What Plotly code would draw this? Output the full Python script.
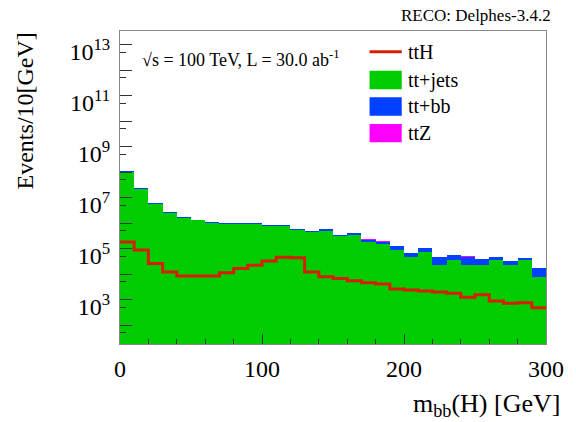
import plotly.graph_objects as go

# ---- data ----
bin_edges = [0, 10, 20, 30, 40, 50, 60, 70, 80, 90, 100, 110, 120, 130, 140, 150,
             160, 170, 180, 190, 200, 210, 220, 230, 240, 250, 260, 270, 280, 290, 300]

tt_jets = [1.02e8, 2.14e7, 5.6e6, 2.45e6, 1.62e6, 1.26e6, 1.02e6, 9.5e5, 9.1e5, 9.1e5,
           7.8e5, 7.8e5, 5.25e5, 4.4e5, 4.7e5, 3.0e5, 3.3e5, 1.86e5, 1.48e5, 8.7e4,
           4.5e4, 7.2e4, 2.24e4, 3.6e4, 2.2e4, 2.25e4, 3.6e4, 2.2e4, 3.55e4, 7.6e3]

tt_bb = [6.0e6, 1.4e6, 2.6e5, 1.7e5, 1.5e5, 1.1e5, 9.0e4, 6.0e4, 7.0e4, 7.0e4,
         9.0e4, 9.0e4, 7.3e4, 5.0e4, 9.0e4, 5.0e4, 7.0e4, 3.9e4, 4.0e4, 4.3e4,
         2.3e4, 3.2e4, 2.4e4, 2.05e4, 2.6e4, 1.6e4, 1.0e4, 1.1e4, 7.0e3, 9.6e3]

tt_z = [3.0e4, 8.0e3, 2.5e3, 1.5e3, 1.2e3, 1.0e3, 1.0e3, 1.0e3, 2.0e4, 2.0e4,
        1.2e3, 1.2e3, 1.0e3, 800, 800, 700, 700, 6.0e3, 700, 500,
        300, 4.0e3, 300, 300, 2.5e3, 200, 200, 150, 150, 100]

tt_h = [1.8e5, 8.7e4, 2.6e4, 1.2e4, 8.3e3, 8.3e3, 8.3e3, 1.12e4, 1.66e4, 2.2e4,
        3.2e4, 4.5e4, 4.3e4, 1.2e4, 7.8e3, 6.6e3, 5.5e3, 4.5e3, 4.1e3, 2.6e3,
        2.35e3, 2.15e3, 1.95e3, 1.75e3, 1.23e3, 1.55e3, 870, 710, 740, 480]

y_labeled_exponents = [3, 5, 7, 9, 11, 13]
y_unlabeled_exponents = [2, 4, 6, 8, 10, 12]
x_major_ticks = [0, 100, 200, 300]

# ---- styles ----
C_GREEN = "#00cc00"
C_BLUE = "#0040ff"
C_MAG = "#ff00ff"
C_RED = "#d81e00"
FONT = "Liberation Serif, Times New Roman, serif"
W, H = 576, 422
L, R, T, B = 120, 19, 31, 78
PW, PH = W - L - R, H - T - B
Y_RANGE = [1.255, 13.53]

centers = [(a + b) / 2 for a, b in zip(bin_edges[:-1], bin_edges[1:])]
widths = [b - a for a, b in zip(bin_edges[:-1], bin_edges[1:])]

# stacked totals (THStack style): each layer drawn from the axis to its cumulative height
cum_jets = list(tt_jets)
cum_bb = [a + b for a, b in zip(cum_jets, tt_bb)]
cum_z = [a + b for a, b in zip(cum_bb, tt_z)]

fig = go.Figure()
for name, vals, col in [("ttZ", cum_z, C_MAG), ("tt+bb", cum_bb, C_BLUE), ("tt+jets", cum_jets, C_GREEN)]:
    fig.add_trace(go.Bar(x=centers, y=vals, width=widths, name=name,
                         marker=dict(color=col, line=dict(width=0)),
                         showlegend=False))

fig.add_trace(go.Scatter(x=bin_edges, y=tt_h + [tt_h[-1]], mode="lines", name="ttH",
                         line=dict(color=C_RED, width=3, shape="hv"), showlegend=False))

# empty trace that only carries the secondary (tick-only) y axis
fig.add_trace(go.Scatter(x=[None], y=[None], yaxis="y2", mode="lines", showlegend=False,
                         hoverinfo="skip"))

all_exp = sorted(y_labeled_exponents + y_unlabeled_exponents)
yminor = [5 * 10 ** (e - 1) for e in all_exp]
xminor = [v for v in range(20, 300, 20) if v not in x_major_ticks]

fig.update_layout(
    width=W, height=H, margin=dict(l=L, r=R, t=T, b=B),
    paper_bgcolor="white", plot_bgcolor="white",
    barmode="overlay", bargap=0,
    font=dict(family=FONT, color="black"),
    xaxis=dict(range=[0, 300], tickmode="array", tickvals=x_major_ticks,
               ticks="inside", ticklen=10, tickcolor="#333", tickwidth=1,
               showline=True, linecolor="#888", linewidth=1, mirror=True,
               showgrid=False, zeroline=False, tickfont=dict(size=24, family=FONT),
               ticklabelstandoff=3,
               minor=dict(tickmode="array", tickvals=xminor, ticks="inside", ticklen=5,
                          tickcolor="#333", showgrid=False)),
    yaxis=dict(type="log", range=Y_RANGE, tickmode="array",
               tickvals=[10 ** e for e in y_labeled_exponents],
               ticktext=[f"10<sup>{e}</sup>" for e in y_labeled_exponents],
               ticks="inside", ticklen=12, tickcolor="#333", tickwidth=1,
               showline=True, linecolor="#888", linewidth=1, mirror=True,
               showgrid=False, zeroline=False, tickfont=dict(size=24, family=FONT),
               ticklabelstandoff=4, ticklabelshift=7,
               minor=dict(tickmode="array", tickvals=yminor, ticks="inside", ticklen=6,
                          tickcolor="#333", showgrid=False)),
    yaxis2=dict(type="log", range=Y_RANGE, overlaying="y", side="left",
                tickmode="array", tickvals=[10 ** e for e in y_unlabeled_exponents],
                showticklabels=False, ticks="inside", ticklen=12, tickcolor="#333",
                tickwidth=1, showline=False, showgrid=False, zeroline=False),
)

def px(xp):
    return (xp - L) / PW

def py(yp):
    return (H - B - yp) / PH

ann = []
ann.append(dict(text="RECO: Delphes-3.4.2", x=px(564), y=py(15), xref="paper", yref="paper",
                xanchor="right", yanchor="middle", showarrow=False, font=dict(size=17, family=FONT)))
ann.append(dict(text="√s = 100 TeV, L = 30.0 ab<sup>-1</sup>", x=px(141), y=py(58), xref="paper", yref="paper",
                xanchor="left", yanchor="middle", showarrow=False, font=dict(size=18, family=FONT)))
ann.append(dict(text="Events/10[GeV]", x=px(23), y=py(111), xref="paper", yref="paper",
                xanchor="center", yanchor="middle", textangle=-90, showarrow=False,
                font=dict(size=24, family=FONT)))
ann.append(dict(text="m<sub>bb</sub>(H) [GeV]", x=px(573), y=py(405), xref="paper", yref="paper",
                xanchor="right", yanchor="middle", showarrow=False, font=dict(size=26, family=FONT)))

# legend (drawn manually to match box-style entries)
shapes = []
shapes.append(dict(type="line", xref="paper", yref="paper", x0=px(376), x1=px(409),
                   y0=py(51.7), y1=py(51.7), line=dict(color=C_RED, width=3)))
leg_boxes = [(C_GREEN, 70.7, 89.3), (C_BLUE, 97.3, 115.7), (C_MAG, 124, 142.3)]
for col, y0, y1 in leg_boxes:
    shapes.append(dict(type="rect", xref="paper", yref="paper", x0=px(376), x1=px(409),
                       y0=py(y1), y1=py(y0), fillcolor=col, line=dict(width=0)))
leg_labels = [("ttH", 51.7), ("tt+jets", 80), ("tt+bb", 106.5), ("ttZ", 133.2)]
for txt, yc in leg_labels:
    ann.append(dict(text=txt, x=px(413), y=py(yc), xref="paper", yref="paper",
                    xanchor="left", yanchor="middle", showarrow=False, font=dict(size=20, family=FONT)))

fig.update_layout(annotations=ann, shapes=shapes)
fig.write_html("out.html")
